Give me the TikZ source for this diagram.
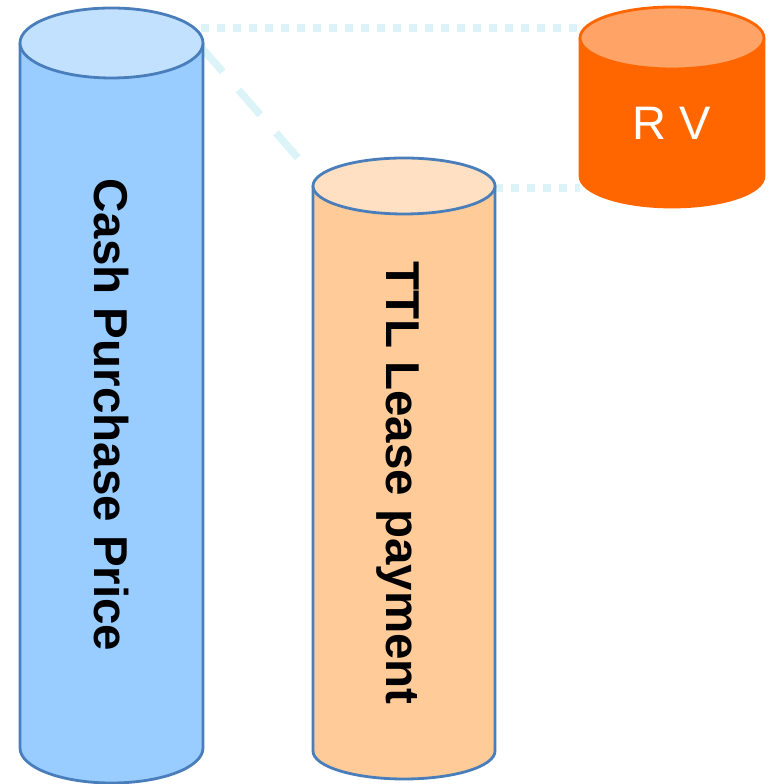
\documentclass[tikz,border=0pt]{standalone}
\usepackage{fontspec}
\setmainfont{Liberation Sans}
\definecolor{edgeblue}{HTML}{4A7EBB}
\definecolor{cashbody}{HTML}{99CCFF}
\definecolor{cashtop}{HTML}{C2E1FF}
\definecolor{ttlbody}{HTML}{FFCC99}
\definecolor{ttltop}{HTML}{FFE0C2}
\definecolor{rvbody}{HTML}{FF6600}
\definecolor{rvtop}{HTML}{FFA366}
\definecolor{linkcol}{HTML}{DCF4F8}
\newcommand\mycyl[8]{%
  \fill[#6] (#1-#2,#3) -- (#1-#2,#4) arc[start angle=180,end angle=360,x radius=#2,y radius=#5] -- (#1+#2,#3) -- cycle;
  \draw[#8,line width=2.8pt] (#1-#2,#3) -- (#1-#2,#4) arc[start angle=180,end angle=360,x radius=#2,y radius=#5] -- (#1+#2,#3);
  \filldraw[fill=#7,draw=#8,line width=2.8pt] (#1,#3) ellipse[x radius=#2,y radius=#5];
}
\tikzset{
  dotlink/.style={linkcol,line width=7.5pt,dash pattern=on 8pt off 8pt},
  dashlink/.style={linkcol,line width=7.5pt,dash pattern=on 33pt off 24pt},
  vlabel/.style={inner sep=0pt,rotate=-90,font=\fontsize{47.5}{57}\selectfont\bfseries},
}
\begin{document}
\begin{tikzpicture}[x=1pt,y=1pt]
\useasboundingbox (0,0) rectangle (769,784);
% connectors (behind cylinders)
\coordinate (cashTopR) at (201,756);
\coordinate (rvTopL) at (580,756);
\coordinate (cashEdge) at (201,737);
\coordinate (ttlNear) at (298,626);
\coordinate (ttlTopR) at (495,596);
\coordinate (rvBotL) at (580,596);
\draw[dotlink] (cashTopR) -- (rvTopL);
\draw[dotlink] (ttlTopR) -- (rvBotL);
\draw[dashlink] (cashEdge) -- (ttlNear);
% cylinders
\mycyl{111.5}{91.5}{741}{36}{35}{cashbody}{cashtop}{edgeblue}
\mycyl{404}{91}{598}{33}{28}{ttlbody}{ttltop}{edgeblue}
\mycyl{672}{92}{746}{608}{31}{rvbody}{rvtop}{rvbody}
% labels
\node[vlabel] (cash) at (111,369) {Cash Purchase Price};
\node[vlabel] (ttl) at (398,301) {TTL Lease payment};
\node[inner sep=0pt,text=white,font=\fontsize{47}{56}\selectfont] (rv) at (672,661) {R V};
\end{tikzpicture}
\end{document}
